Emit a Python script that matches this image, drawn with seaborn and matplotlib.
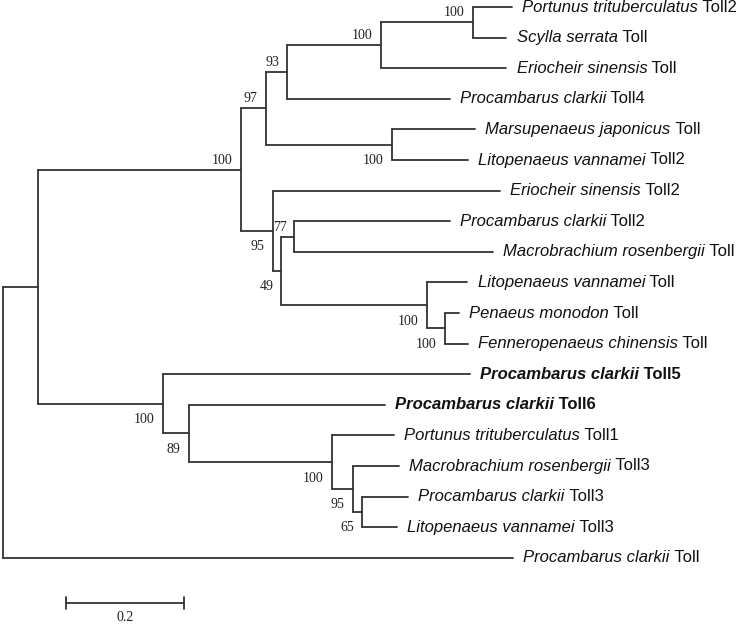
import pandas as pd
import numpy as np
import matplotlib
matplotlib.use("Agg")
import matplotlib.pyplot as plt
import seaborn as sns

# tips, top to bottom
tip_species = ["Portunus trituberculatus", "Scylla serrata", "Eriocheir sinensis",
               "Procambarus clarkii", "Marsupenaeus japonicus", "Litopenaeus vannamei",
               "Eriocheir sinensis", "Procambarus clarkii", "Macrobrachium rosenbergii",
               "Litopenaeus vannamei", "Penaeus monodon", "Fenneropenaeus chinensis",
               "Procambarus clarkii", "Procambarus clarkii", "Portunus trituberculatus",
               "Macrobrachium rosenbergii", "Procambarus clarkii", "Litopenaeus vannamei",
               "Procambarus clarkii"]
tip_gene = ["Toll2", "Toll", "Toll", "Toll4", "Toll", "Toll2", "Toll2", "Toll2", "Toll",
            "Toll", "Toll", "Toll", "Toll5", "Toll6", "Toll1", "Toll3", "Toll3", "Toll3", "Toll"]
tip_bold = [False] * 12 + [True, True] + [False] * 5
tip_parent = ["F", "F", "E", "D", "G", "G", "H", "J", "J", "K", "L", "L",
              "M", "N", "O", "P", "Q", "Q", "root"]
tip_length = [0.066, 0.057, 0.213, 0.275, 0.141, 0.129, 0.385, 0.263, 0.336,
              0.069, 0.024, 0.039, 0.520, 0.332, 0.105, 0.078, 0.078, 0.059, 0.864]

# internal nodes
node_names = ["root", "A", "B", "C", "D", "E", "F", "G", "H", "I", "J", "K", "L",
              "M", "N", "O", "P", "Q"]
node_parent = [None, "root", "A", "B", "C", "D", "E", "C", "B", "H", "I", "I", "K",
               "A", "M", "N", "O", "P"]
node_length = [0.0, 0.059, 0.344, 0.042, 0.037, 0.158, 0.156, 0.214, 0.054, 0.015,
               0.022, 0.246, 0.031, 0.212, 0.044, 0.242, 0.036, 0.015]
node_support = [None, None, 100, 97, 93, 100, 100, 100, 95, 49, 77, 100, 100,
                100, 89, 100, 95, 65]

scale_length = 0.2

# ---- build tree coordinates ----
parent = dict(zip(node_names, node_parent))
length = dict(zip(node_names, node_length))
children = {n: [] for n in node_names}
for n in node_names:
    if parent[n] is not None:
        children[parent[n]].append(n)
tip_ids = ["t%d" % i for i in range(len(tip_species))]
for i, t in enumerate(tip_ids):
    parent[t] = tip_parent[i]
    length[t] = tip_length[i]
    children[tip_parent[i]].append(t)

depth = {}
def get_depth(n):
    if n not in depth:
        depth[n] = 0.0 if parent[n] is None else get_depth(parent[n]) + length[n]
    return depth[n]

ypos = {t: i for i, t in enumerate(tip_ids)}
def get_y(n):
    if n not in ypos:
        ys = [get_y(c) for c in children[n]]
        ypos[n] = (min(ys) + max(ys)) / 2
    return ypos[n]

for n in list(parent):
    get_depth(n)
    get_y(n)

rows = []
seg = 0
for n in parent:
    if parent[n] is not None:
        p = parent[n]
        rows += [(seg, depth[p], ypos[n]), (seg, depth[n], ypos[n])]
        seg += 1
    if n in children and children[n]:
        ys = [ypos[c] for c in children[n]]
        rows += [(seg, depth[n], min(ys)), (seg, depth[n], max(ys))]
        seg += 1
seg_df = pd.DataFrame(rows, columns=["seg", "x", "y"])

# ---- draw ----
sns.set_theme(style="white")
plt.rcParams["font.family"] = ["Liberation Sans", "DejaVu Sans"]

fig = plt.figure(figsize=(7.43, 6.27), dpi=100)
ax = fig.add_axes([0, 0, 1, 1])
line_color = "#333333"

sns.lineplot(data=seg_df, x="x", y="y", units="seg", estimator=None, sort=False,
             color=line_color, linewidth=1.3, legend=False, ax=ax)

# tip labels
for i, t in enumerate(tip_ids):
    w = "bold" if tip_bold[i] else "normal"
    t1 = ax.annotate(tip_species[i], xy=(depth[t], ypos[t]), xytext=(7.5, 0),
                     textcoords="offset points", ha="left", va="center",
                     fontsize=12, style="italic", weight=w, color="#111111")
    ax.annotate(" " + tip_gene[i], xy=(1, 0), xycoords=t1, ha="left", va="bottom",
                fontsize=12, weight=w, color="#111111")

# bootstrap values
for n, s in zip(node_names, node_support):
    if s is None:
        continue
    sibs = children[parent[n]]
    upper = ypos[n] <= min(ypos[c] for c in sibs)
    dy = 6.8 if upper else -11.5
    ax.annotate(str(s), xy=(depth[n], ypos[n]), xytext=(-5.8, dy),
                textcoords="offset points", ha="right", va="center",
                fontsize=10, family="Liberation Serif", color="#222222")

# scale bar
sx0 = 0.107
sy = (603 - 7) / 30.6
ax.plot([sx0, sx0 + scale_length], [sy, sy], color=line_color, lw=1.3)
for xx in (sx0, sx0 + scale_length):
    ax.plot([xx, xx], [sy - 0.18, sy + 0.18], color=line_color, lw=1.3)
ax.annotate(str(scale_length), xy=(sx0 + scale_length / 2, sy), xytext=(0, -10.5),
            textcoords="offset points", ha="center", va="center",
            fontsize=10, family="Liberation Serif", color="#222222")

ax.set_xlim(-3 / 590, 740 / 590)
ax.set_ylim((627 - 7) / 30.6, -7 / 30.6)
ax.axis("off")

fig.savefig("out.png", dpi=100, facecolor="white")
